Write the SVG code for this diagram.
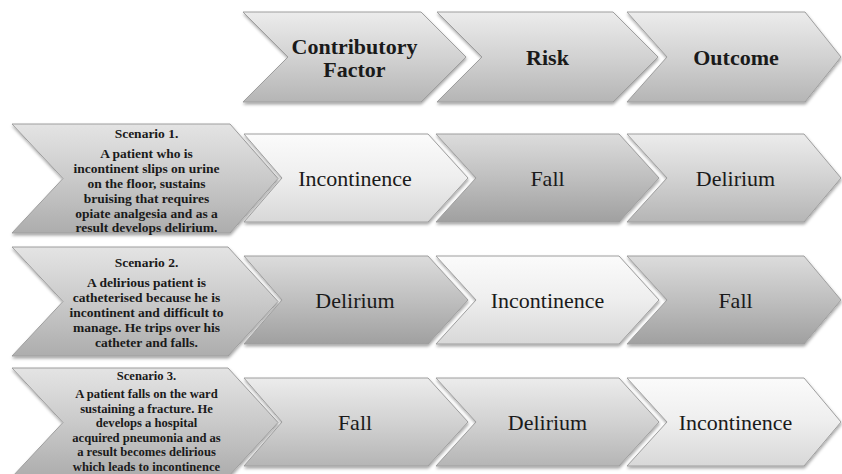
<svg xmlns="http://www.w3.org/2000/svg" width="842" height="474" viewBox="0 0 842 474">
  <defs>
    <linearGradient id="gLight" x1="0" y1="0" x2="0" y2="1">
      <stop offset="0" stop-color="#fbfbfb"/>
      <stop offset="0.5" stop-color="#eeeeee"/>
      <stop offset="1" stop-color="#d8d8d8"/>
    </linearGradient>
    <linearGradient id="gMid" x1="0" y1="0" x2="0" y2="1">
      <stop offset="0" stop-color="#ececec"/>
      <stop offset="0.5" stop-color="#d2d2d2"/>
      <stop offset="1" stop-color="#b5b5b5"/>
    </linearGradient>
    <linearGradient id="gDark" x1="0" y1="0" x2="0" y2="1">
      <stop offset="0" stop-color="#dcdcdc"/>
      <stop offset="0.5" stop-color="#bfbfbf"/>
      <stop offset="1" stop-color="#a0a0a0"/>
    </linearGradient>
    <linearGradient id="gScen" x1="0" y1="0" x2="0" y2="1">
      <stop offset="0" stop-color="#e4e4e4"/>
      <stop offset="0.5" stop-color="#cacaca"/>
      <stop offset="1" stop-color="#adadad"/>
    </linearGradient>
    <filter id="shadow" x="-5%" y="-10%" width="115%" height="130%">
      <feDropShadow dx="0.5" dy="2" stdDeviation="1.4" flood-color="#000" flood-opacity="0.35"/>
    </filter>
  </defs>
  <style>
    .shape { stroke: #9e9e9e; stroke-width: 1; filter: url(#shadow); }
    .light { fill: url(#gLight); }
    .mid { fill: url(#gMid); }
    .dark { fill: url(#gDark); }
    .scen { fill: url(#gScen); }
    text { font-family: "Liberation Serif", "Times New Roman", serif; fill: #1a1a1a; text-anchor: middle; }
    .head { font-size: 22px; font-weight: bold; }
    .cell { font-size: 22px; }
    .scen-t { font-size: 13.5px; font-weight: bold; }
    .scen-s { font-size: 12.6px; font-weight: bold; }
  </style>

  <rect width="842" height="474" fill="#ffffff"/>

  <!-- header row -->
  <g id="head-contributory">
    <polygon class="shape mid" points="243,12 421,12 466,57 421,102 243,102 288,57"/>
    <text class="head" x="354.5" y="53.5">Contributory</text>
    <text class="head" x="354.5" y="77">Factor</text>
  </g>
  <g id="head-risk">
    <polygon class="shape mid" points="437,12 613,12 658,57 613,102 437,102 482,57"/>
    <text class="head" x="547.5" y="65">Risk</text>
  </g>
  <g id="head-outcome">
    <polygon class="shape mid" points="627,12 805,12 841,57 805,102 627,102 667,57"/>
    <text class="head" x="736" y="65">Outcome</text>
  </g>

  <!-- scenario 1 -->
  <g id="scenario-1">
    <polygon class="shape scen" points="12,124 230,124 278,178.5 230,233 12,233 63,178.5"/>
    <text class="scen-t" x="146.5" y="137.5">Scenario 1.</text>
    <text class="scen-t" x="146.5" y="157.5">A patient who is</text>
    <text class="scen-t" x="146.5" y="172.5">incontinent slips on urine</text>
    <text class="scen-t" x="146.5" y="187.5">on the floor, sustains</text>
    <text class="scen-t" x="146.5" y="202.5">bruising that requires</text>
    <text class="scen-t" x="146.5" y="217.5">opiate analgesia and as a</text>
    <text class="scen-t" x="146.5" y="232">result develops delirium.</text>
  </g>
  <g id="r1-contributory">
    <polygon class="shape light" points="244,134 428,134 468,178 428,222 244,222 282,178"/>
    <text class="cell" x="355" y="185.5">Incontinence</text>
  </g>
  <g id="r1-risk">
    <polygon class="shape dark" points="436,134 619,134 659,178 619,222 436,222 476,178"/>
    <text class="cell" x="547.5" y="185.5">Fall</text>
  </g>
  <g id="r1-outcome">
    <polygon class="shape mid" points="627,134 804,134 841,178 804,222 627,222 667,178"/>
    <text class="cell" x="735.5" y="185.5">Delirium</text>
  </g>

  <!-- scenario 2 -->
  <g id="scenario-2">
    <polygon class="shape scen" points="12,247 228,247 278,301.5 228,356 12,356 63,301.5"/>
    <text class="scen-t" x="146.5" y="266.5">Scenario 2.</text>
    <text class="scen-t" x="146.5" y="287">A delirious patient is</text>
    <text class="scen-t" x="146.5" y="302">catheterised because he is</text>
    <text class="scen-t" x="146.5" y="317">incontinent and difficult to</text>
    <text class="scen-t" x="146.5" y="332">manage. He trips over his</text>
    <text class="scen-t" x="146.5" y="347">catheter and falls.</text>
  </g>
  <g id="r2-contributory">
    <polygon class="shape dark" points="244,256 428,256 468,300 428,344 244,344 282,300"/>
    <text class="cell" x="355" y="307.5">Delirium</text>
  </g>
  <g id="r2-risk">
    <polygon class="shape light" points="436,256 619,256 659,300 619,344 436,344 476,300"/>
    <text class="cell" x="547.5" y="307.5">Incontinence</text>
  </g>
  <g id="r2-outcome">
    <polygon class="shape dark" points="627,256 804,256 841,300 804,344 627,344 667,300"/>
    <text class="cell" x="735.5" y="307.5">Fall</text>
  </g>

  <!-- scenario 3 (its box runs past the bottom edge, so the text is set a little tighter) -->
  <g id="scenario-3">
    <polygon class="shape scen" points="12,368 228,368 278,422.5 228,477 12,477 63,422.5"/>
    <text class="scen-s" x="146.5" y="380">Scenario 3.</text>
    <text class="scen-s" x="146.5" y="398">A patient falls on the ward</text>
    <text class="scen-s" x="146.5" y="412.5">sustaining a fracture. He</text>
    <text class="scen-s" x="146.5" y="427">develops a hospital</text>
    <text class="scen-s" x="146.5" y="441.5">acquired pneumonia and as</text>
    <text class="scen-s" x="146.5" y="456">a result becomes delirious</text>
    <text class="scen-s" x="146.5" y="470.5">which leads to incontinence</text>
  </g>
  <g id="r3-contributory">
    <polygon class="shape mid" points="244,378 428,378 468,422 428,466 244,466 282,422"/>
    <text class="cell" x="355" y="429.5">Fall</text>
  </g>
  <g id="r3-risk">
    <polygon class="shape mid" points="436,378 619,378 659,422 619,466 436,466 476,422"/>
    <text class="cell" x="547.5" y="429.5">Delirium</text>
  </g>
  <g id="r3-outcome">
    <polygon class="shape light" points="627,378 804,378 841,422 804,466 627,466 667,422"/>
    <text class="cell" x="735.5" y="429.5">Incontinence</text>
  </g>

  <g id="connectors"/>
</svg>
